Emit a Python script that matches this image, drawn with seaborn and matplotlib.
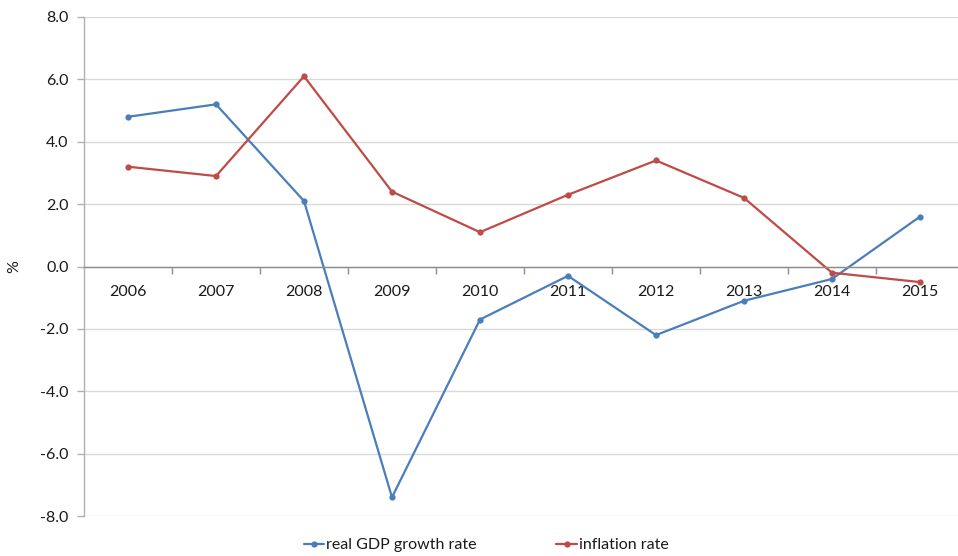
import matplotlib
matplotlib.use("Agg")
import matplotlib.pyplot as plt
import seaborn as sns
import pandas as pd
from matplotlib.ticker import FixedLocator, FormatStrFormatter

years = [2006, 2007, 2008, 2009, 2010, 2011, 2012, 2013, 2014, 2015]
gdp_growth = [4.8, 5.2, 2.1, -7.4, -1.7, -0.3, -2.2, -1.1, -0.4, 1.6]
inflation = [3.2, 2.9, 6.1, 2.4, 1.1, 2.3, 3.4, 2.2, -0.2, -0.5]
series_names = ["real GDP growth rate", "inflation rate"]
colors = ["#4A7EBB", "#BE4B48"]

df = pd.DataFrame({
    "year": years * 2,
    "value": gdp_growth + inflation,
    "series": [series_names[0]] * len(years) + [series_names[1]] * len(years),
})

sns.set_theme(style="white")
plt.rcParams["font.family"] = ["Lato", "DejaVu Sans"]

fig = plt.figure(figsize=(9.58, 5.56), dpi=100)
ax = fig.add_axes([84 / 958, (556 - 516) / 556, (964 - 84) / 958, (516 - 17) / 556])

sns.lineplot(data=df, x="year", y="value", hue="series", palette=colors,
             marker="o", markersize=4.5, markeredgewidth=0, linewidth=1.6,
             ax=ax, legend=True)

ax.set_xlim(years[0] - 0.5, years[-1] + 0.5)
ax.set_ylim(-8, 8)
ax.set_yticks([-8, -6, -4, -2, 0, 2, 4, 6, 8])
ax.yaxis.set_major_formatter(FormatStrFormatter("%.1f"))
ax.grid(axis="y", color="#D9D9D9", linewidth=1)
ax.grid(axis="x", visible=False)

for s in ["top", "right"]:
    ax.spines[s].set_visible(False)
ax.spines["left"].set_color("#B0B0B0")
ax.spines["left"].set_linewidth(1)
ax.spines["bottom"].set_position(("data", 0))
ax.spines["bottom"].set_color("#8C8C8C")
ax.spines["bottom"].set_linewidth(1)

ax.set_xticks(years)
ax.set_xticklabels([str(y) for y in years])
ax.xaxis.set_minor_locator(FixedLocator([y + 0.5 for y in years[:-1]]))
ax.tick_params(axis="x", which="major", length=0, pad=13, labelsize=11.5, labelcolor="#1a1a1a")
ax.tick_params(axis="x", which="minor", direction="out", length=5, width=1, color="#8C8C8C", bottom=True)
ax.tick_params(axis="y", which="major", direction="out", length=5, width=1, color="#B0B0B0",
               left=True, labelsize=11.5, labelcolor="#1a1a1a", pad=6)

ax.set_xlabel("")
ax.set_ylabel("%", fontsize=11.5, color="#1a1a1a", va="center")
ax.yaxis.set_label_coords((14 - 84) / 880, 0.5)

leg = ax.legend(loc="center", bbox_to_anchor=(486 / 958, 11 / 556),
                bbox_transform=fig.transFigure, ncol=2, frameon=False,
                fontsize=11.5, handlelength=1.3, handletextpad=0.1,
                columnspacing=5.0)
for t in leg.get_texts():
    t.set_color("#1a1a1a")

fig.savefig("out.png", dpi=100)
